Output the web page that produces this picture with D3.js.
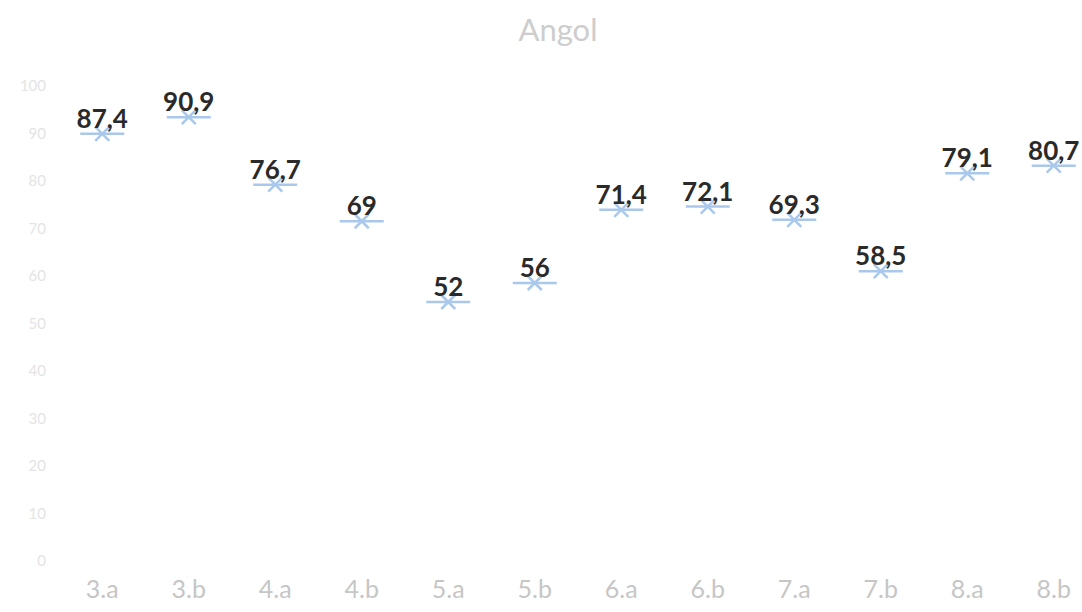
<!DOCTYPE html>
<html>
<head>
<meta charset="utf-8">
<script src="https://cdn.jsdelivr.net/npm/d3@7"></script>
<style>
  body { margin: 0; background: #fff; }
  svg { display: block; }
</style>
</head>
<body>
<script>
//chart data
var categories = ["3.a", "3.b", "4.a", "4.b", "5.a", "5.b", "6.a", "6.b", "7.a", "7.b", "8.a", "8.b"];
var values = [87.4, 90.9, 76.7, 69, 52, 56, 71.4, 72.1, 69.3, 58.5, 79.1, 80.7];
var yTicks = [0, 10, 20, 30, 40, 50, 60, 70, 80, 90, 100];
var title = "Angol";

var width = 1082,
    height = 612;

var svg = d3.select("body")
    .append("svg")
    .attr("width", width)
    .attr("height", height);

var xScale = d3.scaleBand()
    .domain(categories)
    .range([59, 1097]);

var yScale = d3.scaleLinear()
    .domain([0, 100])
    .range([549, 74]);

//title
svg.append("text")
    .attr("x", 558)
    .attr("y", 41)
    .attr("text-anchor", "middle")
    .style("font-family", "Lato, 'Open Sans', sans-serif")
    .style("font-size", "31px")
    .style("fill", "#cdcdcd")
    .text(title);

//y axis, no line, faint labels
var yAxis = d3.axisLeft(yScale)
    .tickValues(yTicks)
    .tickSize(0)
    .tickPadding(0);

var yG = svg.append("g")
    .attr("transform", "translate(46,12)")
    .call(yAxis);
yG.select(".domain").remove();
yG.selectAll("text")
    .style("font-family", "Lato, sans-serif")
    .style("font-size", "15px")
    .style("fill", "#e4e4e4");

//x axis labels
var xAxis = d3.axisBottom(xScale)
    .tickSize(0)
    .tickPadding(0);

var xG = svg.append("g")
    .attr("transform", "translate(0,580)")
    .call(xAxis);
xG.select(".domain").remove();
xG.selectAll("text")
    .style("font-family", "Lato, sans-serif")
    .style("font-size", "25px")
    .style("fill", "#c6c6c6");

//markers
var pts = svg.selectAll(".pt")
    .data(values)
    .enter()
    .append("g")
    .attr("class", "pt")
    .attr("transform", function(d, i){
        return "translate(" + (xScale(categories[i]) + xScale.bandwidth() / 2) + "," + yScale(d) + ")";
    });

pts.append("line")
    .attr("x1", -22).attr("x2", 22)
    .attr("y1", 0).attr("y2", 0)
    .style("stroke", "#a9c8ec")
    .style("stroke-width", 2.5);

pts.append("path")
    .attr("d", "M-7,-7L7,7M-7,7L7,-7")
    .style("stroke", "#a9c8ec")
    .style("stroke-width", 2.5)
    .style("fill", "none");

pts.append("text")
    .attr("y", -6)
    .attr("text-anchor", "middle")
    .style("font-family", "Lato, sans-serif")
    .style("font-weight", "bold")
    .style("font-size", "26px")
    .style("fill", "#2a2a2a")
    .text(function(d){ return String(d).replace(".", ","); });
</script>
</body>
</html>
